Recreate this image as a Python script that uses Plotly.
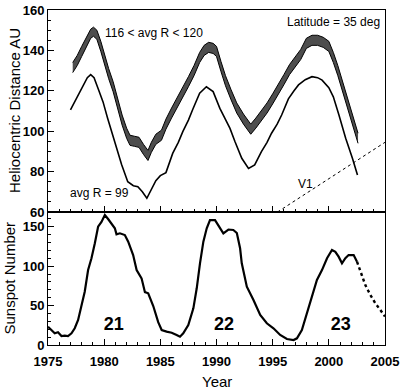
import plotly.graph_objects as go

# ---------------- data ----------------
# Upper band (116 < avg R < 120): upper and lower edges, heliocentric distance AU
band_years = [1977.2, 1977.6, 1978.0, 1978.4, 1978.8, 1979.05, 1979.35, 1979.7, 1980.0, 1980.4,
              1980.8, 1981.2, 1981.6, 1982.0, 1982.3, 1982.7, 1983.1, 1983.5, 1983.9, 1984.2,
              1984.6, 1985.1, 1985.5, 1986.0, 1986.5, 1987.0, 1987.5, 1988.0, 1988.5, 1988.9,
              1989.3, 1989.7, 1990.0, 1990.4, 1990.8, 1991.3, 1991.8, 1992.4, 1993.05, 1993.5,
              1994.0, 1994.5, 1995.0, 1995.5, 1996.0, 1996.5, 1997.0, 1997.5, 1998.0, 1998.5,
              1999.0, 1999.5, 2000.0, 2000.4, 2000.8, 2001.2, 2001.6, 2002.0, 2002.35, 2002.6]
band_hi = [134.0, 137.5, 142.0, 146.5, 150.5, 151.5, 150.0, 144.5, 138.5, 131.0,
           124.5, 115.5, 108.0, 101.5, 98.0, 97.5, 97.0, 93.5, 90.5, 94.5,
           98.5, 100.5, 106.0, 111.5, 116.5, 121.5, 127.0, 132.5, 139.0, 142.5,
           144.0, 143.5, 142.0, 134.5, 127.5, 120.5, 114.0, 108.5, 103.5, 106.5,
           110.0, 114.0, 118.5, 123.0, 128.0, 133.0, 136.5, 140.5, 146.0, 147.5,
           147.5, 146.5, 144.5, 139.0, 132.5, 125.0, 117.5, 109.5, 102.5, 99.0]
band_lo = [129.0, 132.5, 137.0, 141.5, 146.0, 147.0, 145.5, 139.5, 133.5, 126.0,
           119.5, 110.5, 103.0, 96.5, 93.0, 92.5, 92.0, 88.5, 85.5, 89.5,
           93.5, 95.5, 101.0, 106.5, 111.5, 116.5, 122.0, 127.5, 134.0, 137.5,
           139.0, 138.5, 137.0, 129.5, 122.5, 115.5, 109.0, 103.5, 98.5, 101.5,
           105.0, 109.0, 113.5, 118.0, 123.0, 128.0, 131.5, 135.5, 141.0, 142.5,
           142.5, 141.5, 139.5, 134.0, 127.5, 120.0, 112.5, 104.5, 97.5, 94.0]

# Lower curve (avg R = 99)
r99_years = [1977.0, 1977.5, 1978.0, 1978.5, 1978.8, 1979.1, 1979.5, 1979.9, 1980.3, 1980.7,
             1981.1, 1981.55, 1982.1, 1982.6, 1983.0, 1983.4, 1983.8, 1984.2, 1984.6, 1985.0,
             1985.5, 1986.1, 1986.6, 1987.0, 1987.5, 1987.9, 1988.5, 1989.1, 1989.7, 1990.3,
             1990.8, 1991.2, 1991.65, 1992.25, 1992.85, 1993.4, 1994.0, 1994.5, 1994.9, 1995.4,
             1995.8, 1996.4, 1996.9, 1997.3, 1997.9, 1998.5, 1999.0, 1999.4, 2000.0, 2000.4,
             2000.9, 2001.5, 2002.1, 2002.55]
r99_dist = [110.5, 116.0, 121.5, 126.5, 128.0, 126.5, 120.5, 114.5, 106.5, 99.0,
            91.5, 83.5, 75.0, 73.0, 72.5, 70.0, 66.8, 71.0, 75.5, 78.0,
            79.5, 89.0, 94.5, 99.8, 105.5, 111.0, 118.8, 122.0, 119.6, 111.3,
            106.0, 101.4, 94.8, 86.6, 81.6, 83.3, 89.9, 94.5, 99.0, 103.5,
            108.0, 116.0, 120.0, 122.9, 125.5, 127.0, 126.5, 125.3, 121.5, 117.0,
            108.0, 96.5, 86.6, 78.3]

# Voyager 1 trajectory
v1_years = [1995.43, 2005.0]
v1_dist = [60.0, 94.5]

# Sunspot number (observed)
ssn_years = [1975.0, 1975.3, 1975.6, 1975.89, 1976.2, 1976.49, 1976.78, 1977.09, 1977.38, 1977.68,
             1977.98, 1978.27, 1978.57, 1978.87, 1979.17, 1979.46, 1979.76, 1980.06, 1980.35, 1980.66,
             1980.95, 1981.1, 1981.4, 1981.84, 1982.14, 1982.58, 1982.89, 1983.33, 1983.63, 1983.92,
             1984.37, 1984.81, 1985.12, 1985.56, 1986.01, 1986.45, 1986.75, 1987.04, 1987.49, 1987.94,
             1988.24, 1988.53, 1988.83, 1989.13, 1989.42, 1989.87, 1990.17, 1990.61, 1991.06, 1991.5,
             1991.81, 1992.1, 1992.25, 1992.7, 1993.29, 1993.89, 1994.48, 1995.07, 1995.67, 1996.27,
             1996.86, 1997.16, 1997.6, 1998.05, 1998.5, 1998.94, 1999.39, 1999.84, 2000.28, 2000.58,
             2000.87, 2001.17, 2001.47, 2001.76, 2002.21, 2002.51]
ssn_vals = [23.2, 19.0, 14.8, 16.1, 11.4, 11.8, 11.4, 14.8, 21.2, 31.7,
            50.7, 67.6, 95.0, 110.0, 129.0, 150.0, 156.0, 164.8, 159.7, 154.2,
            148.0, 140.3, 141.6, 139.4, 131.0, 114.0, 95.0, 84.5, 67.0, 65.5,
            49.4, 29.0, 19.0, 16.9, 15.6, 12.7, 10.5, 14.8, 25.3, 46.5,
            71.9, 103.5, 131.0, 148.0, 158.4, 158.4, 152.0, 141.6, 146.4, 145.8,
            142.0, 122.6, 103.5, 73.9, 57.0, 38.0, 27.5, 21.2, 12.7, 7.6,
            6.3, 8.5, 19.0, 40.2, 61.2, 82.4, 95.0, 110.0, 120.4, 118.2,
            112.0, 103.5, 110.0, 114.0, 114.0, 105.6]

# Sunspot number (predicted)
pred_years = [2002.51, 2002.96, 2003.25, 2003.7, 2004.14, 2004.59, 2005.0]
pred_vals = [105.6, 88.7, 76.0, 63.4, 52.9, 44.4, 36.0]

# Cycle labels
cycle_labels = ["21", "22", "23"]
cycle_years = [1980.86, 1990.67, 2001.07]
cycle_y = [24.5, 24.5, 24.5]

x_ticks = [1975, 1980, 1985, 1990, 1995, 2000, 2005]
top_ticks = [60, 80, 100, 120, 140, 160]
bot_ticks = [0, 50, 100, 150]

# ---------------- figure ----------------
FONT = "Liberation Sans, Arial, sans-serif"
W, H = 400, 389
ML, MR, MT, MB = 48, 15, 10, 44
split = 0.397

fig = go.Figure()

fig.add_trace(go.Scatter(x=band_years, y=band_hi, mode="lines",
                         line=dict(color="black", width=1), xaxis="x", yaxis="y",
                         showlegend=False, hoverinfo="skip"))
fig.add_trace(go.Scatter(x=band_years, y=band_lo, mode="lines", fill="tonexty",
                         fillcolor="#4d4d4d", line=dict(color="black", width=1),
                         xaxis="x", yaxis="y", showlegend=False, hoverinfo="skip"))
fig.add_trace(go.Scatter(x=r99_years, y=r99_dist, mode="lines",
                         line=dict(color="black", width=1.6), xaxis="x", yaxis="y",
                         showlegend=False))
fig.add_trace(go.Scatter(x=v1_years, y=v1_dist, mode="lines",
                         line=dict(color="black", width=1, dash="dot"), xaxis="x", yaxis="y",
                         showlegend=False))
fig.add_trace(go.Scatter(x=ssn_years, y=ssn_vals, mode="lines",
                         line=dict(color="black", width=2.2), xaxis="x2", yaxis="y2",
                         showlegend=False))
fig.add_trace(go.Scatter(x=pred_years, y=pred_vals, mode="lines",
                         line=dict(color="black", width=2.4, dash="dot"), xaxis="x2", yaxis="y2",
                         showlegend=False))
fig.add_trace(go.Scatter(x=cycle_years, y=cycle_y, mode="text", text=cycle_labels,
                         textfont=dict(family=FONT, size=18, color="black", weight="bold"),
                         xaxis="x2", yaxis="y2", showlegend=False, hoverinfo="skip"))

common_x = dict(range=[1975, 2005], showline=True, linecolor="black", linewidth=1, mirror=True,
                ticks="inside", ticklen=6, tickcolor="black", tickvals=x_ticks,
                minor=dict(dtick=1, ticks="inside", ticklen=3, tickcolor="black"),
                showgrid=False, zeroline=False, automargin=False)
common_y = dict(showline=True, linecolor="black", linewidth=1, mirror=True,
                ticks="inside", ticklen=6, tickcolor="black", showgrid=False, zeroline=False,
                automargin=False,
                tickfont=dict(family=FONT, size=13, color="black", weight="bold"))

fig.update_layout(
    width=W, height=H, margin=dict(l=ML, r=MR, t=MT, b=MB, autoexpand=False),
    paper_bgcolor="white", plot_bgcolor="white",
    font=dict(family=FONT, color="black"),
    xaxis=dict(common_x, domain=[0, 1], anchor="y", showticklabels=False),
    yaxis=dict(common_y, domain=[split, 1], anchor="x", range=[60, 160], tickvals=top_ticks,
               minor=dict(dtick=5, ticks="inside", ticklen=3, tickcolor="black")),
    xaxis2=dict(common_x, domain=[0, 1], anchor="y2", ticklabelstandoff=4,
                tickfont=dict(family=FONT, size=13, color="black", weight="bold")),
    yaxis2=dict(common_y, domain=[0, split], anchor="x2", range=[0, 168.6], tickvals=bot_ticks,
                minor=dict(dtick=10, ticks="inside", ticklen=3, tickcolor="black")),
)

ann = [
    dict(text="116 < avg R < 120", x=1979.9, y=148.5, xref="x", yref="y", xanchor="left",
         yanchor="middle", showarrow=False, font=dict(size=12)),
    dict(text="Latitude = 35 deg", x=2004.74, y=154.2, xref="x", yref="y", xanchor="right",
         yanchor="middle", showarrow=False, font=dict(size=12)),
    dict(text="avg R = 99", x=1976.78, y=69.6, xref="x", yref="y", xanchor="left",
         yanchor="middle", showarrow=False, font=dict(size=12)),
    dict(text="V1", x=1997.94, y=74.1, xref="x", yref="y", xanchor="center",
         yanchor="middle", showarrow=False, font=dict(size=12)),
    dict(text="Heliocentric Distance AU", x=0, y=(split + 1) / 2, xref="paper", yref="paper",
         xshift=-(ML - 14), xanchor="center", yanchor="middle", textangle=-90,
         showarrow=False, font=dict(size=15)),
    dict(text="Sunspot Number", x=0, y=split / 2, xref="paper", yref="paper",
         xshift=-(ML - 10), xanchor="center", yanchor="middle", textangle=-90,
         showarrow=False, font=dict(size=15)),
    dict(text="Year", x=0.5, y=0, xref="paper", yref="paper", yshift=-(381 - 345),
         xanchor="center", yanchor="middle", showarrow=False, font=dict(size=15)),
]
fig.update_layout(annotations=ann)

fig.write_html("out.html", config={"displayModeBar": False},
               post_script="document.body.style.margin='0';")
